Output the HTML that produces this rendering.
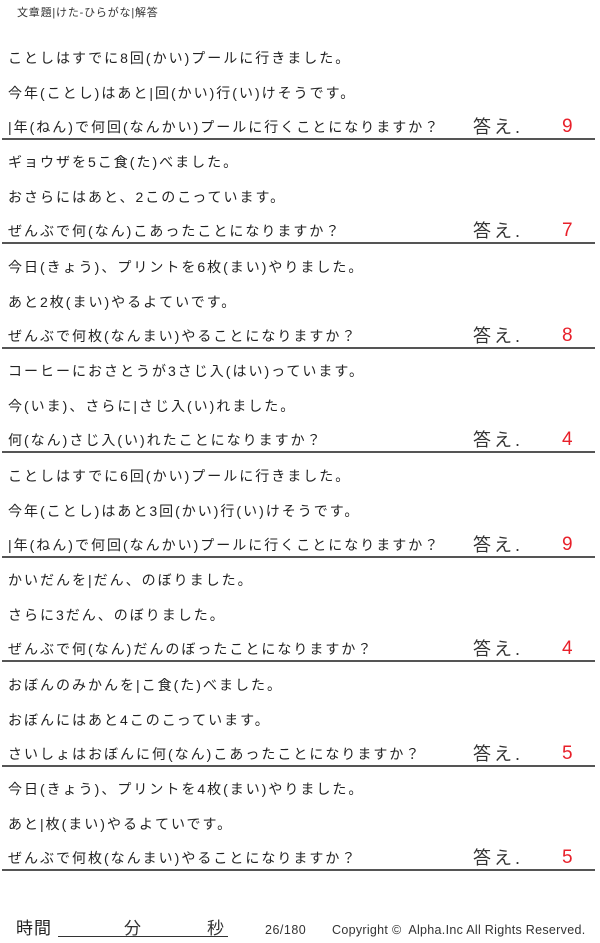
<!DOCTYPE html>
<html><head><meta charset="utf-8"><style>
body{margin:0;width:600px;height:943px;background:#fff;position:relative;overflow:hidden;font-family:"Liberation Sans","Noto Sans CJK JP",sans-serif;color:#222}
.t{position:absolute;left:8px;font-size:14px;letter-spacing:2px;line-height:18px;white-space:nowrap}
.a{position:absolute;left:473px;font-size:18px;letter-spacing:3px;line-height:22px;color:#333}
.n{position:absolute;left:562px;font-size:19px;line-height:22px;color:#e8202a}
.l{position:absolute;left:2px;width:593px;height:2px;background:#555}
</style></head><body>
<div style="position:absolute;left:17px;top:4px;font-size:11px;letter-spacing:0.8px;color:#333">文章題|けた-ひらがな|解答</div>

<div class="t" style="top:49px">ことしはすでに8回(かい)プールに行きました。</div>
<div class="t" style="top:84px">今年(ことし)はあと|回(かい)行(い)けそうです。</div>
<div class="t" style="top:118px">|年(ねん)で何回(なんかい)プールに行くことになりますか？</div>
<div class="a" style="top:116px">答え.</div><div class="n" style="top:116px">9</div>
<div class="l" style="top:138px"></div>

<div class="t" style="top:153px">ギョウザを5こ食(た)べました。</div>
<div class="t" style="top:188px">おさらにはあと、2このこっています。</div>
<div class="t" style="top:222px">ぜんぶで何(なん)こあったことになりますか？</div>
<div class="a" style="top:220px">答え.</div><div class="n" style="top:220px">7</div>
<div class="l" style="top:242px"></div>

<div class="t" style="top:258px">今日(きょう)、プリントを6枚(まい)やりました。</div>
<div class="t" style="top:293px">あと2枚(まい)やるよていです。</div>
<div class="t" style="top:327px">ぜんぶで何枚(なんまい)やることになりますか？</div>
<div class="a" style="top:325px">答え.</div><div class="n" style="top:325px">8</div>
<div class="l" style="top:347px"></div>

<div class="t" style="top:362px">コーヒーにおさとうが3さじ入(はい)っています。</div>
<div class="t" style="top:397px">今(いま)、さらに|さじ入(い)れました。</div>
<div class="t" style="top:431px">何(なん)さじ入(い)れたことになりますか？</div>
<div class="a" style="top:429px">答え.</div><div class="n" style="top:429px">4</div>
<div class="l" style="top:451px"></div>

<div class="t" style="top:467px">ことしはすでに6回(かい)プールに行きました。</div>
<div class="t" style="top:502px">今年(ことし)はあと3回(かい)行(い)けそうです。</div>
<div class="t" style="top:536px">|年(ねん)で何回(なんかい)プールに行くことになりますか？</div>
<div class="a" style="top:534px">答え.</div><div class="n" style="top:534px">9</div>
<div class="l" style="top:556px"></div>

<div class="t" style="top:571px">かいだんを|だん、のぼりました。</div>
<div class="t" style="top:606px">さらに3だん、のぼりました。</div>
<div class="t" style="top:640px">ぜんぶで何(なん)だんのぼったことになりますか？</div>
<div class="a" style="top:638px">答え.</div><div class="n" style="top:638px">4</div>
<div class="l" style="top:660px"></div>

<div class="t" style="top:676px">おぼんのみかんを|こ食(た)べました。</div>
<div class="t" style="top:711px">おぼんにはあと4このこっています。</div>
<div class="t" style="top:745px">さいしょはおぼんに何(なん)こあったことになりますか？</div>
<div class="a" style="top:743px">答え.</div><div class="n" style="top:743px">5</div>
<div class="l" style="top:765px"></div>

<div class="t" style="top:780px">今日(きょう)、プリントを4枚(まい)やりました。</div>
<div class="t" style="top:815px">あと|枚(まい)やるよていです。</div>
<div class="t" style="top:849px">ぜんぶで何枚(なんまい)やることになりますか？</div>
<div class="a" style="top:847px">答え.</div><div class="n" style="top:847px">5</div>
<div class="l" style="top:869px"></div>

<div style="position:absolute;left:16px;top:914px;font-size:17px;letter-spacing:1px;color:#222">時間</div>
<div style="position:absolute;left:58px;top:936px;width:170px;height:1px;background:#333"></div>
<div style="position:absolute;left:124px;top:914px;font-size:17px;color:#333">分</div>
<div style="position:absolute;left:207px;top:914px;font-size:17px;color:#333">秒</div>
<div style="position:absolute;left:265px;top:923px;font-size:12.5px;letter-spacing:0.5px;color:#333">26/180</div>
<div style="position:absolute;left:332px;top:923px;font-size:12.5px;letter-spacing:0.3px;color:#333;white-space:nowrap">Copyright ©&nbsp; Alpha.Inc All Rights Reserved.</div>
</body></html>
